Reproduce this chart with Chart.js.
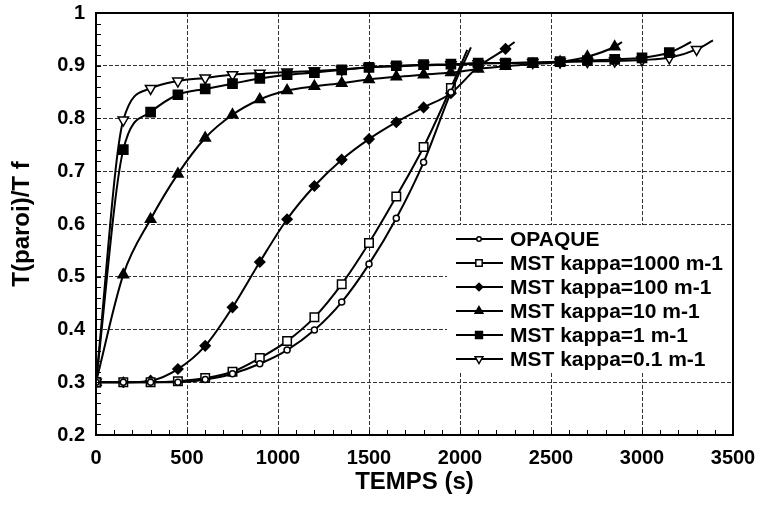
<!DOCTYPE html>
<html>
<head>
<meta charset="utf-8">
<script src="https://cdn.jsdelivr.net/npm/chart.js@4.4.0/dist/chart.umd.min.js"></script>
<style>
  html, body { margin: 0; padding: 0; background: #fff; }
  #wrap { width: 760px; height: 505px; position: relative; }
</style>
</head>
<body>
<div id="wrap"><canvas id="paroiChart"></canvas></div>
<script>
// marker times (s), one marker every 150 s
const temps = [0, 150, 300, 450, 600, 750, 900, 1050, 1200, 1350, 1500, 1650,
  1800, 1950, 2100, 2250, 2400, 2550, 2700, 2850, 3000, 3150, 3300];

// T(paroi)/T f at each marker time
const opaque    = [0.300, 0.300, 0.300, 0.300, 0.305, 0.316, 0.335, 0.361, 0.399, 0.452, 0.524, 0.611, 0.717, 0.850];
const kappa1000 = [0.300, 0.300, 0.300, 0.302, 0.308, 0.320, 0.346, 0.378, 0.423, 0.486, 0.564, 0.652, 0.746, 0.858];
const kappa100  = [0.300, 0.300, 0.303, 0.325, 0.369, 0.442, 0.528, 0.609, 0.672, 0.722, 0.761, 0.793, 0.821, 0.848, 0.898, 0.932];
const kappa10   = [0.300, 0.504, 0.609, 0.695, 0.763, 0.807, 0.836, 0.853, 0.861, 0.867, 0.874, 0.879, 0.883, 0.887,
  0.894, 0.899, 0.903, 0.907, 0.917, 0.936];
const kappa1    = [0.300, 0.741, 0.812, 0.845, 0.856, 0.866, 0.876, 0.883, 0.887, 0.892, 0.897, 0.900, 0.902, 0.903,
  0.905, 0.905, 0.906, 0.908, 0.910, 0.912, 0.915, 0.925];
const kappa01   = [0.300, 0.797, 0.857, 0.871, 0.877, 0.883, 0.886, 0.888, 0.890, 0.893, 0.897, 0.899, 0.901, 0.902,
  0.904, 0.905, 0.906, 0.907, 0.908, 0.909, 0.911, 0.915, 0.931];

// where each curve stops (no marker there)
const endTemps  = [2060, 2040, 2300, 2890, 3270, 3390];
const endValues = [0.935, 0.930, 0.945, 0.945, 0.945, 0.948];

const labels = ['OPAQUE', 'MST kappa=1000 m-1', 'MST kappa=100 m-1',
  'MST kappa=10 m-1', 'MST kappa=1 m-1', 'MST kappa=0.1 m-1'];
const yTicks = [0.2, 1.0, 0.1];   // min, max, step
const xTicks = [0, 3500, 500];

const FONT = "'Liberation Sans', Arial, Helvetica, sans-serif";

function serie(i, values, style) {
  const pts = values.map((v, k) => ({ x: temps[k], y: v }));
  pts.push({ x: endTemps[i], y: endValues[i] });
  return Object.assign({
    label: labels[i],
    data: pts,
    borderColor: '#000',
    borderWidth: 2,
    pointBorderColor: '#000',
    pointBorderWidth: 1.5,
    cubicInterpolationMode: 'monotone',
    fill: false,
    pointRadius: ctx => ctx.dataIndex === ctx.dataset.data.length - 1 ? 0 : ctx.dataset.markerSize
  }, style);
}

const datasets = [
  serie(0, opaque,    { pointStyle: 'circle',   markerSize: 3,   pointBackgroundColor: '#fff' }),
  serie(1, kappa1000, { pointStyle: 'rect',     markerSize: 6,   pointBackgroundColor: '#fff' }),
  serie(2, kappa100,  { pointStyle: 'rectRot',  markerSize: 5,   pointBackgroundColor: '#000' }),
  serie(3, kappa10,   { pointStyle: 'triangle', markerSize: 6,   pointBackgroundColor: '#000' }),
  serie(4, kappa1,    { pointStyle: 'rect',     markerSize: 6.5, pointBackgroundColor: '#000' }),
  serie(5, kappa01,   { pointStyle: 'triangle', markerSize: 6,   pointBackgroundColor: '#fff', pointRotation: 180 })
];

// frame, minor ticks and the legend box inside the plot
const framePlugin = {
  id: 'frame',
  afterDraw(chart) {
    const { ctx, chartArea: a, scales: { x, y } } = chart;
    ctx.save();
    ctx.strokeStyle = '#000';
    ctx.lineWidth = 1;
    ctx.beginPath();
    for (let v = yTicks[0]; v <= yTicks[1] + 1e-6; v += 0.02) {
      const py = Math.round(y.getPixelForValue(v)) + 0.5;
      ctx.moveTo(a.left, py); ctx.lineTo(a.left + 5, py);
    }
    for (let t = xTicks[0]; t <= xTicks[1]; t += 100) {
      const px = Math.round(x.getPixelForValue(t)) + 0.5;
      ctx.moveTo(px, a.bottom); ctx.lineTo(px, a.bottom - 5);
    }
    ctx.stroke();
    ctx.lineWidth = 2;
    ctx.strokeRect(a.left, a.top, a.right - a.left, a.bottom - a.top);

    // legend
    const bx = a.right - 286, by = a.top + 212;
    ctx.fillStyle = '#fff';
    ctx.fillRect(bx, by, 285, 146);
    ctx.font = 'bold 21px ' + FONT;
    ctx.textBaseline = 'middle';
    chart.data.datasets.forEach((ds, i) => {
      const ry = by + 14 + i * 24;
      ctx.strokeStyle = '#000';
      ctx.lineWidth = 2;
      ctx.beginPath();
      ctx.moveTo(bx + 9, ry); ctx.lineTo(bx + 56, ry);
      ctx.stroke();
      ctx.fillStyle = ds.pointBackgroundColor;
      ctx.lineWidth = ds.pointBorderWidth;
      Chart.helpers.drawPoint(ctx, {
        pointStyle: ds.pointStyle,
        rotation: ds.pointRotation || 0,
        radius: ds.markerSize * 0.75,
        borderWidth: ds.pointBorderWidth
      }, bx + 32, ry);
      ctx.fillStyle = '#000';
      ctx.fillText(ds.label, bx + 63, ry + 1);
    });
    ctx.restore();
  }
};

// no extra room for overflowing tick labels: the layout padding fixes the plot box
function noOverflow(s) {
  s.paddingTop = 0; s.paddingBottom = 0; s.paddingLeft = 0; s.paddingRight = 0;
}

new Chart(document.getElementById('paroiChart').getContext('2d'), {
  type: 'line',
  data: { datasets },
  options: {
    responsive: true,
    maintainAspectRatio: false,
    animation: false,
    events: [],
    layout: { padding: { top: 13, right: 27, left: 0, bottom: 0 } },
    plugins: {
      legend: { display: false },
      tooltip: { enabled: false }
    },
    scales: {
      x: {
        type: 'linear',
        min: xTicks[0],
        max: xTicks[1],
        afterFit: s => { s.height = 70; noOverflow(s); },
        ticks: { stepSize: xTicks[2], color: '#000', padding: 11,
          callback: v => String(v),
          font: { family: FONT, size: 20, weight: 'bold' } },
        grid: { color: '#333', lineWidth: 1, drawTicks: false },
        border: { display: true, color: '#000', width: 2, dash: [4, 2] },
        title: { display: true, text: 'TEMPS (s)', color: '#000', padding: { top: 0, bottom: 8 },
          font: { family: FONT, size: 24, weight: 'bold' } }
      },
      y: {
        min: yTicks[0],
        max: yTicks[1],
        afterFit: s => { s.width = 96; noOverflow(s); },
        ticks: { stepSize: yTicks[2], color: '#000', padding: 11,
          callback: v => String(Number(v.toFixed(1))),
          font: { family: FONT, size: 20, weight: 'bold' } },
        grid: { color: '#333', lineWidth: 1, drawTicks: false },
        border: { display: true, color: '#000', width: 2, dash: [4, 2] },
        title: { display: true, text: 'T(paroi)/T f', color: '#000', padding: { top: 8, bottom: 0 },
          font: { family: FONT, size: 24, weight: 'bold' } }
      }
    }
  },
  plugins: [framePlugin]
});
</script>
</body>
</html>
